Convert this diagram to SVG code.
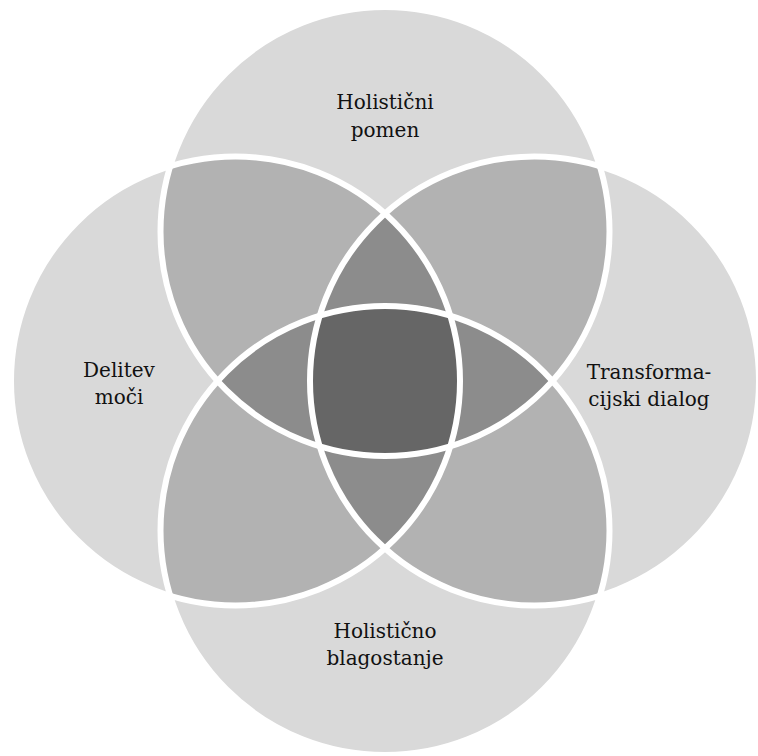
<svg xmlns="http://www.w3.org/2000/svg" width="758" height="756" viewBox="0 0 758 756">
  <style>
    .base { fill: #d9d9d9; }
    .two { fill: #b2b2b2; }
    .three { fill: #8c8c8c; }
    .four { fill: #666666; }
    .ring { fill: none; stroke: #ffffff; stroke-width: 6; }
    .lbl { font-family: "DejaVu Serif", "Liberation Serif", serif; font-size: 20px; fill: #111111; text-anchor: middle; }
  </style>
  <defs>
    <circle id="cT" cx="385" cy="231.5" r="224.5"/>
    <circle id="cB" cx="385" cy="530.5" r="224.5"/>
    <circle id="cL" cx="235.5" cy="381" r="224.5"/>
    <circle id="cR" cx="534.5" cy="381" r="224.5"/>
    <clipPath id="kT"><use href="#cT"/></clipPath>
    <clipPath id="kB"><use href="#cB"/></clipPath>
    <clipPath id="kL"><use href="#cL"/></clipPath>
    <clipPath id="kR"><use href="#cR"/></clipPath>
  </defs>

  <g id="node-top">
    <use href="#cT" class="base"/>
    <text class="lbl" x="385" y="109">Holistični</text>
    <text class="lbl" x="385" y="137">pomen</text>
  </g>
  <g id="node-left">
    <use href="#cL" class="base"/>
    <text class="lbl" x="119" y="377">Delitev</text>
    <text class="lbl" x="119" y="404">moči</text>
  </g>
  <g id="node-right">
    <use href="#cR" class="base"/>
    <text class="lbl" x="649" y="379">Transforma-</text>
    <text class="lbl" x="649" y="406">cijski dialog</text>
  </g>
  <g id="node-bottom">
    <use href="#cB" class="base"/>
    <text class="lbl" x="385" y="638">Holistično</text>
    <text class="lbl" x="385" y="665">blagostanje</text>
  </g>

  <g id="overlaps">
    <use href="#cL" class="two" clip-path="url(#kT)"/>
    <use href="#cR" class="two" clip-path="url(#kT)"/>
    <use href="#cL" class="two" clip-path="url(#kB)"/>
    <use href="#cR" class="two" clip-path="url(#kB)"/>
    <use href="#cB" class="two" clip-path="url(#kT)"/>
    <use href="#cR" class="two" clip-path="url(#kL)"/>
    <g clip-path="url(#kT)"><use href="#cR" class="three" clip-path="url(#kL)"/></g>
    <g clip-path="url(#kB)"><use href="#cR" class="three" clip-path="url(#kL)"/></g>
    <g clip-path="url(#kL)"><use href="#cB" class="three" clip-path="url(#kT)"/></g>
    <g clip-path="url(#kR)"><use href="#cB" class="three" clip-path="url(#kT)"/></g>
    <g clip-path="url(#kT)"><g clip-path="url(#kB)"><use href="#cR" class="four" clip-path="url(#kL)"/></g></g>
  </g>

  <g id="outlines">
    <use href="#cT" class="ring"/>
    <use href="#cL" class="ring"/>
    <use href="#cR" class="ring"/>
    <use href="#cB" class="ring"/>
  </g>
</svg>
